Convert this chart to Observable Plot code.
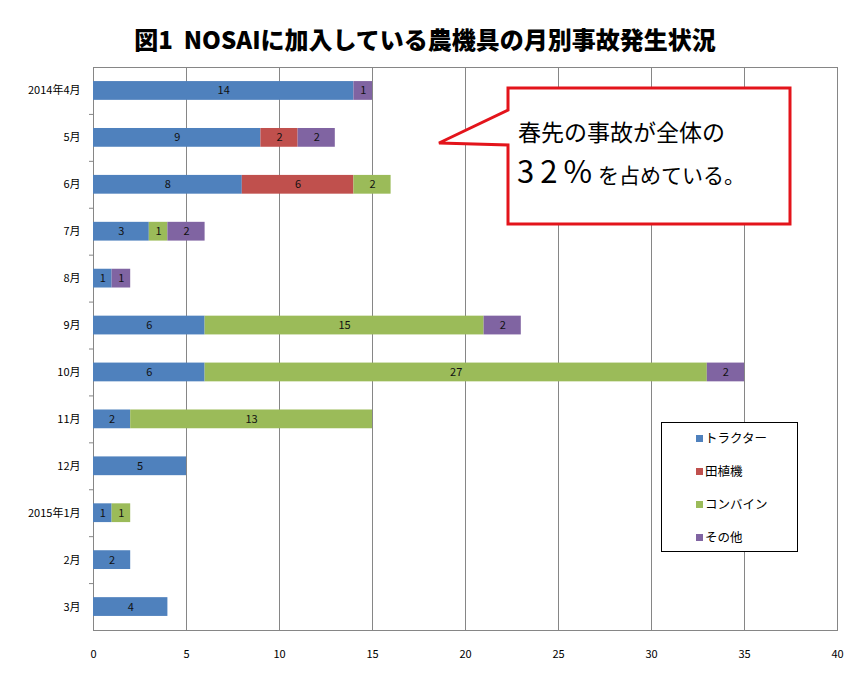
<!DOCTYPE html>
<html>
<head>
<meta charset="utf-8">
<script src="https://cdn.jsdelivr.net/npm/d3@7"></script>
<script src="https://cdn.jsdelivr.net/npm/@observablehq/plot@0.6"></script>
<style>
  html, body { margin: 0; padding: 0; background: #fff; }
  #wrap { position: relative; width: 866px; height: 683px; font-family: "Noto Sans CJK JP", sans-serif; }
  #title { height: 60px; line-height: 78px; width: 850px; text-align: center; font-size: 24px; font-weight: 900; color: #000; white-space: pre; overflow: visible; }
  #legend { position: absolute; left: 661px; top: 422px; width: 135px; height: 128px; border: 1px solid #000; background: #fff; box-sizing: content-box; }
  #legend .item { position: absolute; left: 34px; font-size: 12.5px; line-height: 14px; color: #000; display: flex; align-items: center; }
  #legend .sw { width: 7px; height: 7px; margin-right: 2px; display: inline-block; }
  #overlay { position: absolute; left: 0; top: 0; pointer-events: none; }
</style>
</head>
<body>
<div id="wrap">
  <div id="title">図1  NOSAIに加入している農機具の月別事故発生状況</div>
  <div id="chart"></div>
  <div id="legend"></div>
  <svg id="overlay" width="866" height="683"></svg>
</div>
<script>
const months = ["2014年4月","5月","6月","7月","8月","9月","10月","11月","12月","2015年1月","2月","3月"];
const types = ["トラクター","田植機","コンバイン","その他"];
const colors = ["#4F81BD","#C0504D","#9BBB59","#8064A2"];
const tractor = [14,9,8,3,1,6,6,2,5,1,2,4];
const ricePlanter = [0,2,6,0,0,0,0,0,0,0,0,0];
const combine = [0,0,2,1,0,15,27,13,0,1,0,0];
const other = [1,2,0,2,1,2,2,0,0,0,0,0];
const xTicks = [0,5,10,15,20,25,30,35,40];
const calloutLine1 = "春先の事故が全体の";
const calloutBig = "32%";
const calloutRest = "を占めている。";

const series = [tractor, ricePlanter, combine, other];
const rows = types.flatMap((t, i) => series[i].map((v, j) => ({month: months[j], type: t, value: v})))
  .filter(d => d.value > 0);

const H = 623, MT = 7, MB = 53;
const step = (H - MT - MB) / months.length;

const chart = Plot.plot({
  width: 866, height: H,
  marginTop: MT, marginBottom: MB, marginLeft: 93, marginRight: 29,
  style: {fontFamily: "'Noto Sans CJK JP', sans-serif", fontSize: "11px", color: "#000", background: "white", overflow: "visible"},
  x: {domain: [0, 40], ticks: xTicks, label: null},
  y: {domain: months, paddingInner: 0.6, paddingOuter: 0.3, round: false, label: null},
  color: {domain: types, range: colors},
  marks: [
    Plot.gridX(xTicks, {stroke: "#868686", strokeOpacity: 1}),
    Plot.frame({stroke: "#868686"}),
    Plot.barX(rows, Plot.stackX({x: "value", y: "month", fill: "type", order: types})),
    Plot.text(rows, Plot.stackX({x: "value", y: "month", z: "type", text: "value", order: types, fill: "#111", fontSize: 11})),
    Plot.axisX(xTicks, {tickSize: 0, tickPadding: 20, label: null, fill: "#000"}),
    Plot.axisY({tickSize: 0, tickPadding: 13, label: null, fill: "#000"}),
    Plot.ruleY(months.slice(1), {y: d => d, x1: 0, x2: 0, insetLeft: -4, dy: -step / 2, stroke: "#868686"})
  ]
});
document.getElementById("chart").appendChild(chart);

// legend
const legend = d3.select("#legend");
types.forEach((t, i) => {
  const item = legend.append("div").attr("class", "item").style("top", (8 + i * 33) + "px");
  item.append("span").attr("class", "sw").style("background", colors[i]);
  item.append("span").text(t);
});

// callout
const ov = d3.select("#overlay");
ov.append("path")
  .attr("d", "M508,88 H790 V224 H508 V145 L439,143 L508,110 Z")
  .attr("fill", "#fff").attr("stroke", "#E3141B").attr("stroke-width", 3).attr("stroke-linejoin", "miter");
ov.append("text").attr("x", 518).attr("y", 141)
  .style("font-family", "'Noto Sans CJK JP', sans-serif").style("font-size", "23px").attr("fill", "#000")
  .text(calloutLine1);
const t2 = ov.append("text").attr("x", 517).attr("y", 183)
  .style("font-family", "'Noto Sans CJK JP', sans-serif").attr("fill", "#000");
t2.append("tspan").style("font-size", "31px").style("letter-spacing", "6px").style("font-weight", "400").text(calloutBig);
t2.append("tspan").style("font-size", "21px").style("letter-spacing", "0px").text(calloutRest);
</script>
</body>
</html>
